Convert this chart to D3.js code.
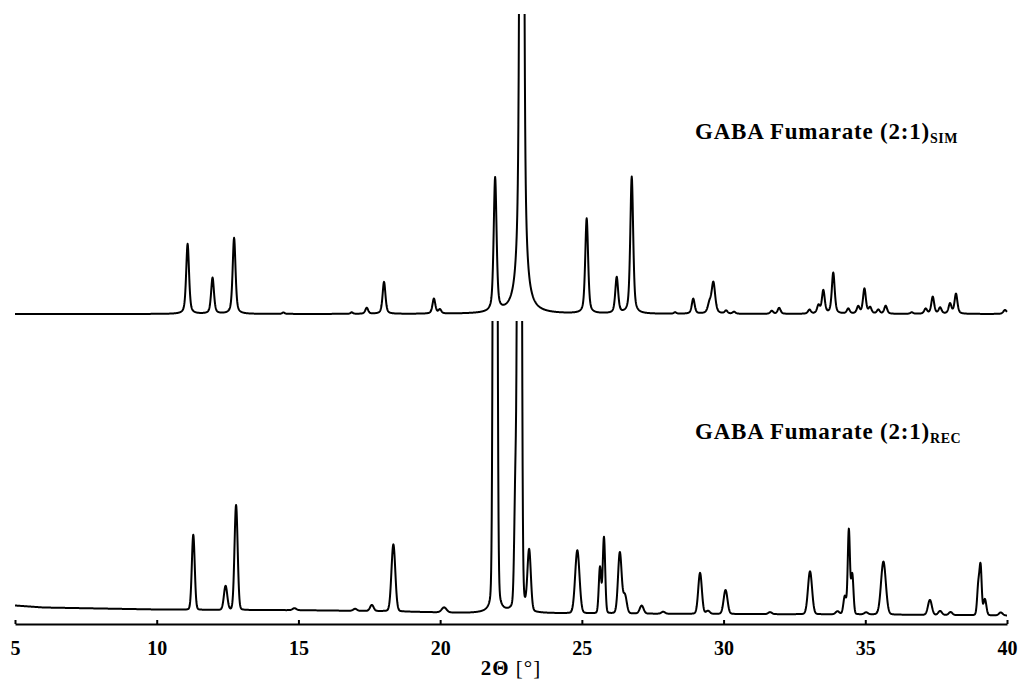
<!DOCTYPE html>
<html>
<head>
<meta charset="utf-8">
<script src="https://cdn.jsdelivr.net/npm/d3@7/dist/d3.min.js"></script>
<style>
  html, body { margin: 0; padding: 0; background: #fff; }
  svg { display: block; }
  svg text { font-family: "Liberation Serif", "Times New Roman", "DejaVu Serif", serif; fill: #000; }
</style>
</head>
<body>
<svg id="chart" width="1022" height="680"></svg>
<script>
// ---- data (peak positions in degrees 2θ, heights in relative counts, FWHM) ----
const xTicks = [5, 10, 15, 20, 25, 30, 35, 40];
const xLabel = "2Θ";
const xUnit = " [°]";
const seriesNames = ["GABA Fumarate (2:1)", "GABA Fumarate (2:1)"];
const seriesSubs = ["SIM", "REC"];

const simPos    = [11.09, 11.97, 12.73, 14.47, 16.88, 17.41, 18.02, 19.78, 19.99, 21.94, 22.88, 25.17, 26.23, 26.76, 28.29, 28.93, 29.50, 29.64, 30.09, 30.37, 31.70, 31.96, 33.03, 33.35, 33.52, 33.87, 34.40, 34.75, 34.97, 35.17, 35.46, 35.72, 36.64, 37.13, 37.38, 37.64, 37.99, 38.20, 39.93];
const simHeight = [70, 36, 76, 1.5, 1.5, 6, 32, 15, 4, 134, 1800, 95, 36, 137, 1.5, 15, 9, 31, 3, 2, 3, 6, 4, 8, 23, 41, 5, 7, 25, 6, 4, 8, 1.5, 5, 17, 6, 10, 20, 4];
const simWidth  = [0.12, 0.12, 0.12, 0.1, 0.1, 0.12, 0.12, 0.12, 0.12, 0.12, 0.11, 0.12, 0.12, 0.12, 0.1, 0.12, 0.14, 0.15, 0.12, 0.12, 0.12, 0.12, 0.12, 0.12, 0.12, 0.12, 0.12, 0.12, 0.12, 0.12, 0.12, 0.12, 0.12, 0.12, 0.12, 0.12, 0.12, 0.12, 0.14];

const recPos    = [11.29, 12.43, 12.80, 14.86, 17.00, 17.59, 18.35, 20.14, 21.94, 22.66, 22.80, 23.14, 24.84, 25.64, 25.78, 26.34, 26.52, 27.11, 27.87, 29.17, 29.45, 30.07, 31.64, 33.05, 34.02, 34.28, 34.42, 34.54, 35.03, 35.64, 37.28, 37.64, 38.01, 38.99, 39.07, 39.22, 39.78];
const recHeight = [75, 24, 105, 2, 2, 6, 67, 5, 2000, 118, 2000, 60, 63, 46, 76, 61, 18, 8, 2, 41, 3, 24, 2, 43, 3, 18, 84, 40, 2, 53, 15, 4, 3, 30, 46, 16, 3];
const recWidth  = [0.12, 0.14, 0.13, 0.15, 0.15, 0.15, 0.16, 0.2, 0.11, 0.1, 0.11, 0.14, 0.18, 0.1, 0.1, 0.15, 0.15, 0.16, 0.15, 0.15, 0.15, 0.16, 0.15, 0.17, 0.15, 0.12, 0.09, 0.1, 0.15, 0.2, 0.16, 0.15, 0.15, 0.1, 0.09, 0.12, 0.15];

// background of the recorded pattern
const bgPos = [5, 6, 8, 10, 12, 15, 18, 20, 21, 25, 30, 35, 40];
const bgVal = [8.5, 6.5, 5.5, 4.5, 4, 3.8, 2.8, 1.5, 0.8, 0.5, 0, -0.5, -1.5];

// ---- layout ----
const svg = d3.select("#chart");
const x = d3.scaleLinear().domain([5, 40]).range([15, 1007]);
const yTop = d3.scaleLinear().domain([0, 300]).range([314, 14]);
const yBot = d3.scaleLinear().domain([0, 293]).range([614, 321]);
const bgScale = d3.scaleLinear().domain(bgPos).range(bgVal);

function profile(pos, hts, wds, eta, bg) {
  const pts = [];
  for (let i = 0; i <= 3500; i++) {
    const t = 5 + i * 0.01;
    let v = bg ? bg(t) : 0;
    for (let k = 0; k < pos.length; k++) {
      const d = (t - pos[k]) / wds[k];
      const d2 = d * d;
      v += hts[k] * (eta / (1 + 4 * d2) + (1 - eta) * Math.exp(-4 * Math.LN2 * d2));
    }
    pts.push([t, v]);
  }
  return pts;
}

const simData = profile(simPos, simHeight, simWidth, 0.5, null);
const recData = profile(recPos, recHeight, recWidth, 0.08, bgScale);

const defs = svg.append("defs");
defs.append("clipPath").attr("id", "clipTop")
  .append("rect").attr("x", 0).attr("y", 14).attr("width", 1022).attr("height", 330);
defs.append("clipPath").attr("id", "clipBot")
  .append("rect").attr("x", 0).attr("y", 321).attr("width", 1022).attr("height", 330);

svg.append("path")
  .datum(simData)
  .attr("clip-path", "url(#clipTop)")
  .attr("fill", "none")
  .attr("stroke", "#000")
  .attr("stroke-width", 2)
  .attr("stroke-linejoin", "round")
  .attr("d", d3.line().x(d => x(d[0])).y(d => yTop(d[1])));

svg.append("path")
  .datum(recData)
  .attr("clip-path", "url(#clipBot)")
  .attr("fill", "none")
  .attr("stroke", "#000")
  .attr("stroke-width", 2)
  .attr("stroke-linejoin", "round")
  .attr("d", d3.line().x(d => x(d[0])).y(d => yBot(d[1])));

// ---- axis ----
const axis = d3.axisBottom(x)
  .tickValues(xTicks)
  .tickFormat(d3.format("d"))
  .tickSizeInner(-4)
  .tickSizeOuter(0)
  .tickPadding(17);

const gAxis = svg.append("g").attr("transform", "translate(0,624)").call(axis);
gAxis.attr("font-family", null);
gAxis.select(".domain").attr("stroke", "#000").attr("stroke-width", 2);
gAxis.selectAll(".tick line").attr("stroke", "#000").attr("stroke-width", 2);
gAxis.selectAll(".tick text")
  .attr("font-size", 20)
  .attr("font-weight", "bold")
  .attr("fill", "#000");

const title = svg.append("text")
  .attr("x", 511).attr("y", 675)
  .attr("text-anchor", "middle")
  .attr("font-size", 21)
  .attr("letter-spacing", 1);
title.append("tspan").attr("font-weight", "bold").text(xLabel);
title.append("tspan").text(xUnit);

// ---- series labels ----
const labelY = [139, 439];
seriesNames.forEach((name, i) => {
  const t = svg.append("text")
    .attr("x", 695).attr("y", labelY[i])
    .attr("font-size", 23)
    .attr("letter-spacing", 0.8)
    .attr("font-weight", "bold");
  t.append("tspan").text(name);
  t.append("tspan").attr("font-size", 14).attr("dy", 4).attr("letter-spacing", 0.6).text(seriesSubs[i]);
});
</script>
</body>
</html>
